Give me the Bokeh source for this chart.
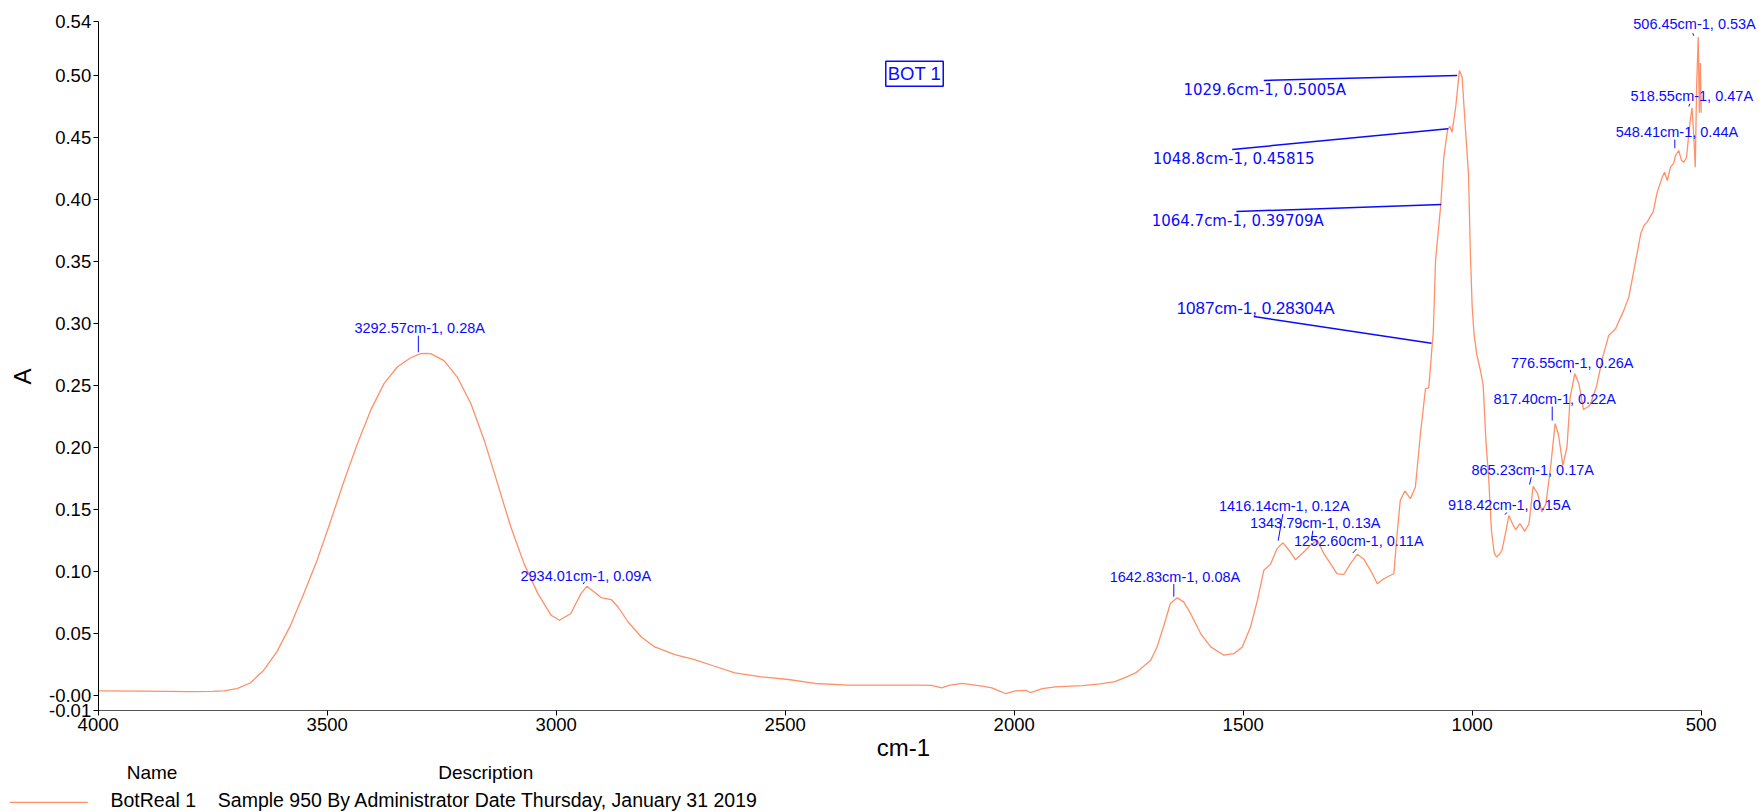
import math
from bokeh.plotting import figure
from bokeh.models import Range1d, FixedTicker, Label, ColumnDataSource
from bokeh.embed import file_html
from bokeh.resources import INLINE

# ---------------- spectrum ----------------
wavenumber = [4000, 3900, 3800, 3750, 3726, 3697, 3668, 3639, 3610, 3580, 3551, 3522, 3493,
              3464, 3434, 3405, 3376, 3347, 3318, 3296, 3285, 3274, 3245, 3216, 3186, 3157,
              3128, 3099, 3070, 3040, 3011, 2993, 2968, 2946, 2933, 2917, 2902, 2880, 2865,
              2843, 2814, 2785, 2741, 2698, 2654, 2610, 2552, 2493, 2435, 2362, 2289, 2216,
              2180, 2158, 2143, 2114, 2070, 2049, 2037, 2019, 1997, 1975, 1964, 1939, 1910,
              1851, 1812, 1780, 1757, 1735, 1720, 1702, 1688, 1673, 1659, 1644, 1630, 1615,
              1593, 1571, 1542, 1520, 1502, 1484, 1469, 1455, 1440, 1426, 1413, 1400, 1386,
              1371, 1353, 1338, 1324, 1309, 1295, 1280, 1266, 1251, 1237, 1222, 1207, 1193,
              1178, 1171, 1164, 1157, 1147, 1135, 1124, 1113, 1102, 1095, 1091, 1087, 1085,
              1080, 1069, 1062, 1054, 1049, 1044, 1036, 1028, 1022, 1015, 1008, 1004, 1000,
              996, 990, 982, 976, 970, 964, 958, 952, 947, 940, 935, 926, 920, 912, 905, 896,
              885, 876, 867, 857, 848, 839, 828, 819, 812, 802, 793, 786, 776, 767, 757, 743,
              729, 715, 702, 687, 669, 658, 647, 632, 625, 618, 612, 605, 596, 585, 580, 574,
              567, 560, 556, 549, 543, 538, 532, 527, 523, 520, 516, 513, 510, 506.5, 504,
              502, 500]
absorbance = [0.0035, 0.0033, 0.0030, 0.0031, 0.0035, 0.0054, 0.0099, 0.020, 0.035, 0.0564,
              0.082, 0.109, 0.140, 0.172, 0.203, 0.230, 0.2514, 0.2648, 0.2723, 0.2756, 0.2758,
              0.2756, 0.270, 0.2567, 0.235, 0.2056, 0.1707, 0.1357, 0.106, 0.082, 0.0645,
              0.0605, 0.066, 0.082, 0.0879, 0.0833, 0.0788, 0.0772, 0.0712, 0.0591, 0.047,
              0.039, 0.0328, 0.0288, 0.0234, 0.018, 0.0148, 0.0127, 0.0095, 0.0081, 0.0081,
              0.0081, 0.0079, 0.006, 0.0079, 0.0095, 0.0073, 0.006, 0.0041, 0.0014, 0.0035,
              0.004, 0.0022, 0.0054, 0.0067, 0.0078, 0.0091, 0.011, 0.0144, 0.018, 0.0225,
              0.0282, 0.039, 0.0565, 0.074, 0.0786, 0.0753, 0.066, 0.0498, 0.039, 0.0323,
              0.0336, 0.039, 0.0551, 0.0766, 0.1008, 0.106, 0.1183, 0.123, 0.117, 0.1094,
              0.1143, 0.121, 0.125, 0.1143, 0.106, 0.098, 0.0976, 0.106, 0.1137, 0.110,
              0.1008, 0.090, 0.094, 0.0968, 0.098, 0.130, 0.1573, 0.1648, 0.1586, 0.168,
              0.211, 0.2473, 0.248, 0.2648, 0.285, 0.292, 0.351, 0.394, 0.434, 0.4556, 0.459,
              0.4543, 0.4744, 0.504, 0.4987, 0.4583, 0.42, 0.356, 0.313, 0.2915, 0.275,
              0.262, 0.25, 0.205, 0.175, 0.133, 0.115, 0.1115, 0.114, 0.117, 0.133, 0.145,
              0.1384, 0.1336, 0.1384, 0.1323, 0.1384, 0.1685, 0.1626, 0.1478, 0.1546, 0.1868,
              0.2191, 0.211, 0.1855, 0.2003, 0.2406, 0.2594, 0.2513, 0.2304, 0.2339, 0.2486,
              0.2728, 0.2903, 0.2957, 0.3105, 0.3212, 0.3427, 0.3723, 0.379, 0.3817, 0.3857,
              0.3898, 0.4059, 0.418, 0.422, 0.4153, 0.426, 0.4293, 0.4355, 0.4395, 0.4315,
              0.43, 0.434, 0.453, 0.4664, 0.474, 0.450, 0.426, 0.4906, 0.531, 0.47, 0.51,
              0.47]

# ---------------- axes ----------------
x_min, x_max = 500, 4000
y_min, y_max = -0.0123, 0.5438
x_ticks = [4000, 3500, 3000, 2500, 2000, 1500, 1000, 500]
y_ticks = [-0.0123, 0.0, 0.05, 0.10, 0.15, 0.20, 0.25, 0.30, 0.35, 0.40, 0.45, 0.50, 0.5438]
y_tick_labels = ["-0.01", "-0.00", "0.05", "0.10", "0.15", "0.20", "0.25", "0.30", "0.35",
                 "0.40", "0.45", "0.50", "0.54"]
x_title, y_title = "cm-1", "A"

# ---------------- peak annotations (small) ----------------
ann_text = ["3292.57cm-1, 0.28A", "2934.01cm-1, 0.09A", "1642.83cm-1, 0.08A",
            "1416.14cm-1, 0.12A", "1343.79cm-1, 0.13A", "1252.60cm-1, 0.11A",
            "918.42cm-1, 0.15A", "865.23cm-1, 0.17A", "817.40cm-1, 0.22A",
            "776.55cm-1, 0.26A", "548.41cm-1, 0.44A", "518.55cm-1, 0.47A",
            "506.45cm-1, 0.53A"]
ann_x = [3298, 2935.4, 1649, 1410.3, 1342.8, 1247.6, 919, 867.9, 819.9, 781.7, 553, 520.5, 514.6]
ann_y = [0.2964, 0.0959, 0.0951, 0.1529, 0.139, 0.1247, 0.1538, 0.182, 0.2391, 0.2681,
         0.4548, 0.4833, 0.5412]
lead_x0 = [3301, 2941, 1651.5, 1413.4, 1348, 1252.6, 924.5, 871.1, 825.3, 785.4, 557.6, 524.8, 518.3]
lead_y0 = [0.2901, 0.0897, 0.0897, 0.1462, 0.1328, 0.118, 0.1475, 0.1758, 0.2329, 0.2625,
           0.4483, 0.4772, 0.5341]
lead_x1 = [3301, 2938, 1651.5, 1423.6, 1350.8, 1260.7, 928.2, 874.8, 825.3, 785.4, 557.6, 527, 516.2]
lead_y1 = [0.2767, 0.0916, 0.0795, 0.1247, 0.1253, 0.1148, 0.1457, 0.17, 0.2216, 0.2605,
           0.4413, 0.475, 0.532]

# ---------------- peak annotations (large) ----------------
big_text = ["1029.6cm-1, 0.5005A", "1048.8cm-1, 0.45815", "1064.7cm-1, 0.39709A",
            "1087cm-1, 0.28304A"]
big_x = [1453, 1521, 1512, 1473]
big_y = [0.4885, 0.4328, 0.383, 0.3122]
big_x0 = [1455, 1524, 1514.6, 1476.9]
big_y0 = [0.496, 0.4403, 0.3902, 0.3055]
big_x1 = [1032.8, 1052.4, 1067.6, 1088.9]
big_y1 = [0.50, 0.457, 0.3959, 0.284]
big_font = ["DejaVu Sans", "DejaVu Sans", "DejaVu Sans", "Liberation Sans"]
big_size = ["15px", "15px", "15px", "17px"]

title_text = "BOT 1"
legend_headers = ["Name", "Description"]
series_name = "BotReal 1"
series_desc = "Sample 950 By Administrator Date Thursday, January 31 2019"

LINE_COLOR = "#ff9068"
BLUE = "#0a0aff"
W, H = 1759, 812
LEFT, TOP, BOTTOM = 97.7, 20.7, 710.0      # pixel edges of the axis box
PX_PER_WN = 0.458
PX_PER_A = (BOTTOM - TOP) / (y_max - y_min)

# the frame covers the whole canvas; axes sit at fixed locations inside it,
# so that every annotation (also those beyond the axis box) stays visible
x_start = x_max + LEFT / PX_PER_WN
x_end = x_max - (W - LEFT) / PX_PER_WN
y_top = y_max + TOP / PX_PER_A
y_bottom = y_min - (H - BOTTOM) / PX_PER_A

p = figure(width=W, height=H, output_backend="svg", toolbar_location=None,
           x_range=Range1d(x_start, x_end), y_range=Range1d(y_bottom, y_top),
           min_border=0)
p.outline_line_color = None
p.grid.visible = False
p.background_fill_color = "white"
p.border_fill_color = "white"

p.line(wavenumber, absorbance, line_color=LINE_COLOR, line_width=1.3)

for ax in (p.xaxis[0], p.yaxis[0]):
    ax.major_tick_in = 0
    ax.major_tick_out = 5
    ax.minor_tick_line_color = None
    ax.major_label_text_font = "Liberation Sans"
    ax.major_label_text_font_size = "18.5px"
    ax.major_label_text_color = "black"
    ax.major_label_standoff = 2
    ax.major_tick_line_color = "black"
p.xaxis.axis_line_color = "#555555"
p.yaxis.axis_line_color = "black"
p.xaxis.bounds = (x_min, x_max)
p.yaxis.bounds = (y_min, y_max)
p.xaxis.fixed_location = y_min
p.yaxis.fixed_location = x_max
p.xaxis.ticker = FixedTicker(ticks=x_ticks)
p.yaxis.ticker = FixedTicker(ticks=y_ticks)
p.yaxis.major_label_overrides = dict(zip(y_ticks, y_tick_labels))

# axis titles
p.add_layout(Label(x=2241.7, y=-0.0424, text=x_title, text_align="center",
                   text_baseline="middle", text_color="black", text_font="Liberation Sans",
                   text_font_size="24px"))
p.add_layout(Label(x=4164.4, y=0.2571, text=y_title, text_align="center",
                   text_baseline="middle", text_color="black", text_font="Liberation Sans",
                   text_font_size="24px", angle=math.pi / 2))

# leader lines
src_small = ColumnDataSource(dict(x0=lead_x0, y0=lead_y0, x1=lead_x1, y1=lead_y1))
p.segment("x0", "y0", "x1", "y1", source=src_small, line_color=BLUE, line_width=1)
src_big = ColumnDataSource(dict(x0=big_x0, y0=big_y0, x1=big_x1, y1=big_y1))
p.segment("x0", "y0", "x1", "y1", source=src_big, line_color=BLUE, line_width=1.5)

for t, x, y in zip(ann_text, ann_x, ann_y):
    p.add_layout(Label(x=x, y=y, text=t, text_align="center", text_baseline="middle",
                       text_color=BLUE, text_font="Liberation Sans", text_font_size="14.5px"))
for t, x, y, f, s in zip(big_text, big_x, big_y, big_font, big_size):
    p.add_layout(Label(x=x, y=y, text=t, text_align="center", text_baseline="middle",
                       text_color=BLUE, text_font=f, text_font_size=s))

p.add_layout(Label(x=2217.7, y=0.5014, text=title_text, text_align="center",
                   text_baseline="middle", text_color=BLUE, text_font="Liberation Sans",
                   text_font_size="18.5px", border_line_color=BLUE, border_line_width=1.5,
                   background_fill_color="white", padding=2))

# footer legend
for t, x in zip(legend_headers, [3882.5, 3153.9]):
    p.add_layout(Label(x=x, y=-0.0623, text=t, text_align="center", text_baseline="middle",
                       text_color="black", text_font="Liberation Sans", text_font_size="19px"))
p.line(x=[4193, 4022.7], y=[-0.0865, -0.0865], line_color=LINE_COLOR, line_width=1.3)
for t, x in zip([series_name, series_desc], [3973.1, 3738.9]):
    p.add_layout(Label(x=x, y=-0.0846, text=t, text_align="left", text_baseline="middle",
                       text_color="black", text_font="Liberation Sans", text_font_size="19.5px"))

open("out.html", "w").write(file_html(p, INLINE))
